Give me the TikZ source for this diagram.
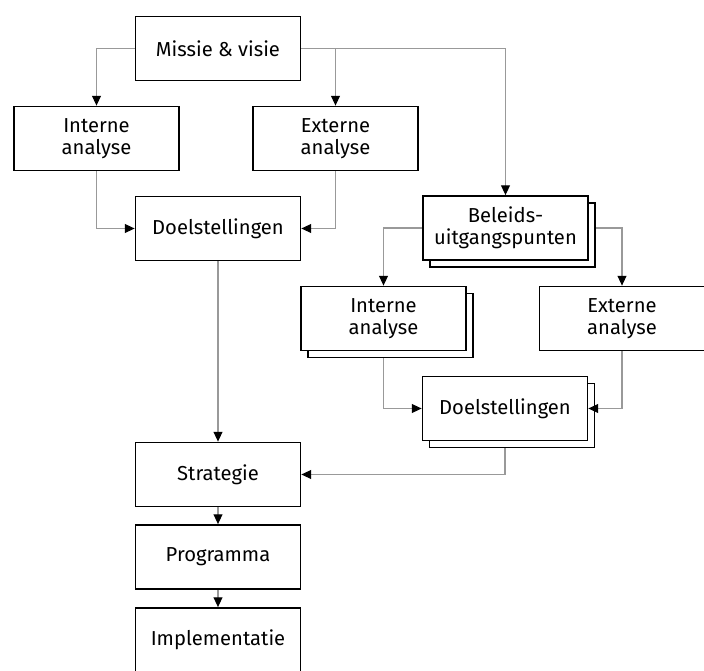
\documentclass[tikz,border=0pt]{standalone}
\usepackage{fontspec}
\setsansfont{Fira Sans}
\usetikzlibrary{arrows.meta,positioning,shadows,backgrounds}

\begin{document}
\begin{tikzpicture}[
    x=0.02cm, y=-0.02cm,
    box/.style={draw, fill=white, line width=1pt, minimum width=3.3cm,
        minimum height=1.28cm, align=center,
        font=\sffamily\fontsize{11.5}{12.5}\selectfont},
    stack/.style={box, copy shadow={shadow xshift=0.14cm, shadow yshift=-0.14cm}},
    link/.style={draw=gray!80, line width=0.6pt, -{Triangle[black,length=5.5pt,width=5pt]}},
]
\useasboundingbox (0,0) rectangle (704,671);

% linker kolom
\node[box] (missie) at (218,48.5) {Missie \& visie};
\node[box] (intern) at (96.5,138.5) {Interne\\analyse};
\node[box] (extern) at (335.5,138.5) {Externe\\analyse};
\node[box] (doel) at (218,228.5) {Doelstellingen};
\node[box] (strat) at (218,474.5) {Strategie};
\node[box] (prog) at (218,557) {Programma};
\node[box] (impl) at (218,640) {Implementatie};

% gestapelde boxen rechts
\node[stack] (beleid) at (505.5,228) {Beleids-\\uitgangspunten};
\node[stack] (intern2) at (383.5,318.5) {Interne\\analyse};
\node[box] (extern2) at (622,318.5) {Externe\\analyse};
\node[stack] (doel2) at (505,408.5) {Doelstellingen};

\begin{scope}[on background layer]
\draw[link] (missie.west) -| (intern.north);
\draw[link] (missie.east) -| (extern.north);
\draw[link] (missie.east) -| (beleid.north);
\draw[link] (intern.south) |- (doel.west);
\draw[link] (extern.south) |- (doel.east);
\draw[link] (doel) -- (strat);
\draw[link] (beleid.west) -| (intern2.north);
\draw[link] (beleid.east) -| (extern2.north);
\draw[link] (intern2.south) |- (doel2.west);
\draw[link] (doel2.south) |- (strat.east);
\draw[link] (strat) -- (prog);
\draw[link] (prog) -- (impl);
\end{scope}
\draw[link] (extern2.south) |- (doel2.east);
\end{tikzpicture}
\end{document}
